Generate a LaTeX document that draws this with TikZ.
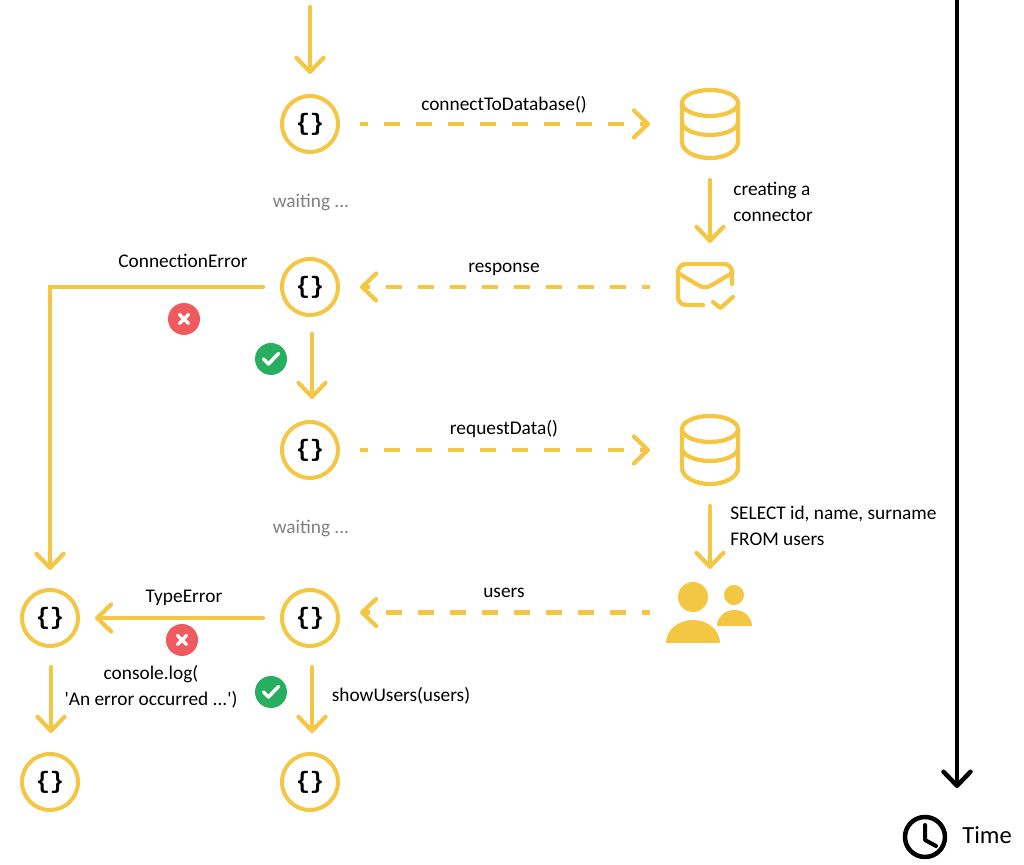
\documentclass[tikz,border=0pt]{standalone}
\usepackage{fontspec}
\setmainfont{Carlito}
\newfontfamily\bracefont{Liberation Mono}
\usetikzlibrary{calc,arrows.meta}
\definecolor{flowyellow}{HTML}{F3C643}
\definecolor{errred}{HTML}{EF5A5F}
\definecolor{okgreen}{HTML}{27AE60}
\tikzset{
	fnnode/.style={circle, draw=flowyellow, line width=0.08cm, minimum size=1.12cm, inner sep=0pt, font=\bracefont\bfseries\fontsize{13.5}{14}\selectfont},
	iconbox/.style={inner sep=0pt, outer sep=0pt},
	flow/.style={draw=flowyellow, line width=0.085cm, line cap=round, -{Straight Barb[length=0.28cm,width=0.54cm,round]}},
	flowdash/.style={flow, line cap=butt, dash pattern=on 0.32cm off 0.32cm, dash phase=0.16cm},
	timeline/.style={draw=black, line width=0.09cm, line cap=round, -{Straight Barb[length=0.28cm,width=0.54cm,round]}},
	lbl/.style={inner sep=0pt, font=\fontsize{11}{14.6}\selectfont},
	waitlbl/.style={lbl, text=black!50},
	errbadge/.style={circle, fill=errred, minimum size=0.64cm, inner sep=0pt},
	okbadge/.style={circle, fill=okgreen, minimum size=0.64cm, inner sep=0pt},
	iconline/.style={draw=flowyellow, line width=0.085cm, line cap=round, line join=round}
}
\def\dbicon(#1){
	\begin{scope}[shift={(#1)}]
		\draw[iconline] (0, 0.42) ellipse (0.56 and 0.26);
		\draw[iconline] (-0.56, 0.42) -- (-0.56, -0.36) arc (180:360:0.56 and 0.32) -- (0.56, 0.42);
		\draw[iconline] (-0.56, 0.04) arc (180:360:0.56 and 0.26);
	\end{scope}
}
\def\errmark(#1)(#2){
	\node[errbadge] (#1) at (#2) {};
	\draw[white, line width=0.07cm, line cap=round] ($(#1)+(-0.09,-0.09)$) -- ($(#1)+(0.09,0.09)$);
	\draw[white, line width=0.07cm, line cap=round] ($(#1)+(-0.09,0.09)$) -- ($(#1)+(0.09,-0.09)$);
}
\def\okmark(#1)(#2){
	\node[okbadge] (#1) at (#2) {};
	\draw[white, line width=0.07cm, line cap=round, line join=round] ($(#1)+(-0.15,0)$) -- ($(#1)+(-0.05,-0.1)$) -- ($(#1)+(0.15,0.11)$);
}

\begin{document}
\begin{tikzpicture}
	\useasboundingbox (0, 0) rectangle (20.48, 17.3);

	%%%%% functions %%%%%
	\node[fnnode] (fnConnect) at (6.2, 14.82) {\{\}};
	\node[fnnode] (fnResponse) at (6.2, 11.56) {\{\}};
	\node[fnnode] (fnRequest) at (6.2, 8.3) {\{\}};
	\node[fnnode] (fnUsers) at (6.2, 4.94) {\{\}};
	\node[fnnode] (fnShow) at (6.2, 1.66) {\{\}};
	\node[fnnode] (fnError) at (1.0, 4.94) {\{\}};
	\node[fnnode] (fnLog) at (1.0, 1.66) {\{\}};

	%%%%% icons %%%%%
	\node[iconbox, minimum width=1.2cm, minimum height=1.44cm] (dbConnect) at (14.2, 14.82) {};
	\dbicon(dbConnect)
	\node[iconbox, minimum width=1.16cm, minimum height=1cm] (mail) at (14.1, 11.56) {};
	\begin{scope}[shift={(mail)}]
		\draw[iconline, rounded corners=0.16cm] (-0.04, -0.36) -- (-0.54, -0.36) -- (-0.54, 0.46) -- (0.54, 0.46) -- (0.54, 0.06);
		\draw[iconline] (-0.54, 0.28) -- (-0.14, 0.04) .. controls (-0.04, -0.02) and (0.04, -0.02) .. (0.14, 0.04) -- (0.54, 0.28);
		\draw[iconline] (0.16, -0.3) -- (0.31, -0.42) -- (0.56, -0.2);
	\end{scope}

	\node[iconbox, minimum width=1.2cm, minimum height=1.44cm] (dbRequest) at (14.2, 8.3) {};
	\dbicon(dbRequest)
	\node[iconbox, minimum width=1.72cm, minimum height=1.22cm] (people) at (14.18, 5.05) {};
	\begin{scope}[shift={(people)}]
		\fill[flowyellow] (-0.32, 0.31) circle (0.3);
		\fill[flowyellow] (-0.86, -0.61) arc (180:0:0.54 and 0.46) -- cycle;
		\fill[flowyellow] (0.5, 0.35) circle (0.2);
		\fill[flowyellow] (0.16, -0.27) arc (180:0:0.35 and 0.32) -- cycle;
	\end{scope}

	%%%%% connectors %%%%%
	\coordinate (entry) at (6.2, 17.16);
	\draw[flow, shorten >=0.4cm] (entry) -- (fnConnect.north);
	\draw[flowdash, shorten <=0.4cm, shorten >=0.6cm] (fnConnect.east) -- (dbConnect.west);
	\draw[flow, shorten <=0.4cm, shorten >=0.38cm] (dbConnect.south) -- (dbConnect.south |- mail.north);
	\draw[flowdash, shorten <=0.52cm, shorten >=0.4cm] (mail.west) -- (fnResponse.east);
	\draw[flow, shorten <=0.34cm, shorten >=0.36cm] (fnResponse.west) -| (fnError.north);
	\draw[flow, shorten <=0.34cm, shorten >=0.42cm] ([xshift=0.04cm]fnResponse.south) -- ([xshift=0.04cm]fnRequest.north);
	\draw[flowdash, shorten <=0.4cm, shorten >=0.6cm] (fnRequest.east) -- (dbRequest.west);
	\draw[flow, shorten <=0.4cm, shorten >=0.26cm] (dbRequest.south) -- (dbRequest.south |- people.north);
	\draw[flowdash, shorten <=0.32cm, shorten >=0.4cm] (people.west) -- (people.west -| fnUsers.east);
	\draw[flow, shorten <=0.34cm, shorten >=0.3cm] (fnUsers.west) -- (fnError.east);
	\draw[flow, shorten <=0.38cm, shorten >=0.38cm] ([xshift=0.04cm]fnUsers.south) -- ([xshift=0.04cm]fnShow.north);
	\draw[flow, shorten <=0.38cm, shorten >=0.38cm] ([xshift=0.02cm]fnError.south) -- ([xshift=0.02cm]fnLog.north);

	%%%%% badges %%%%%
	\errmark(errConnect)(3.68, 10.92)
	\okmark(okConnect)(5.42, 10.12)
	\errmark(errType)(3.64, 4.5)
	\okmark(okType)(5.42, 3.46)

	%%%%% labels %%%%%
	\node[lbl] (lblConnect) at (10.08, 15.2) {connectToDatabase()};
	\node[lbl, anchor=west, align=left] (lblCreating) at (14.66, 13.26) {creating a\\connector};
	\node[waitlbl] (lblWaitA) at (6.22, 13.26) {waiting ...};
	\node[lbl] (lblResponse) at (10.08, 11.92) {response};
	\node[lbl] (lblConnErr) at (3.66, 12.08) {ConnectionError};
	\node[lbl] (lblRequest) at (10.08, 8.72) {requestData()};
	\node[waitlbl] (lblWaitB) at (6.22, 6.74) {waiting ...};
	\node[lbl, anchor=west, align=left] (lblSelect) at (14.6, 6.78) {SELECT id, name, surname\\FROM users};
	\node[lbl] (lblUsers) at (10.08, 5.44) {users};
	\node[lbl] (lblTypeErr) at (3.68, 5.34) {TypeError};
	\node[lbl, align=center] (lblLog) at (3.02, 3.56) {console.log(\\\textquotesingle An error occurred ...\textquotesingle)};
	\node[lbl] (lblShow) at (8.02, 3.38) {showUsers(users)};

	%%%%% time %%%%%
	\coordinate (timeTop) at (19.14, 17.5);
	\coordinate (timeEnd) at (19.14, 1.54);
	\draw[timeline] (timeTop) -- (timeEnd);
	\node[circle, draw=black, line width=0.09cm, minimum size=0.8cm, inner sep=0pt] (clock) at (18.5, 0.56) {};
	\draw[black, line width=0.08cm, line cap=round, line join=round] ($(clock)+(0,0.24)$) -- ($(clock)+(0,-0.06)$) -- ($(clock)+(0.22,-0.18)$);
	\node[lbl, anchor=west, font=\fontsize{14}{16}\selectfont] (lblTime) at (19.24, 0.6) {Time};
\end{tikzpicture}
\end{document}
